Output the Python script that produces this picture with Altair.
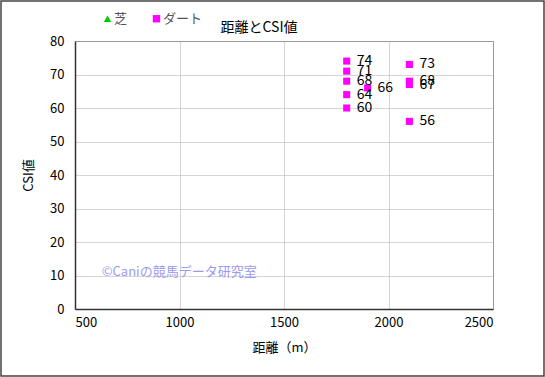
import altair as alt
import pandas as pd

# Data
distance = [1800, 1800, 1800, 1800, 1800, 1900, 2100, 2100, 2100, 2100]
csi = [74, 71, 68, 64, 60, 66, 73, 68, 67, 56]
surface = ["ダート"] * 10
legend_names = ["芝", "ダート"]
legend_colors = ["#00CC00", "#FF00FF"]
legend_shapes = ["triangle-up", "square"]
x_ticks = [500, 1000, 1500, 2000, 2500]
y_ticks = [0, 10, 20, 30, 40, 50, 60, 70, 80]
watermark = "©Caniの競馬データ研究室"
wm_x = [628]
wm_y = [11]

FONT = "Noto Sans CJK JP"

df = pd.DataFrame({"distance": distance, "csi": csi, "surface": surface})
df["label"] = df["csi"].astype(str)
wm = pd.DataFrame({"x": wm_x, "y": wm_y, "t": [watermark]})

xs = alt.Scale(domain=[500, 2500], nice=False, zero=False)
ys = alt.Scale(domain=[0, 80], nice=False)
xaxis = alt.Axis(values=x_ticks, grid=True, ticks=False, labelPadding=7,
                 titlePadding=12, format="d", labelOverlap=False,
                 titleFontWeight="normal")
yaxis = alt.Axis(values=y_ticks, grid=True, ticks=False, labelPadding=11,
                 titlePadding=14, labelOverlap=False, titleFontWeight="normal")

points = alt.Chart(df).mark_point(filled=True, size=50, opacity=1).encode(
    x=alt.X("distance:Q", scale=xs, title="距離（m）", axis=xaxis),
    y=alt.Y("csi:Q", scale=ys, title="CSI値", axis=yaxis),
    color=alt.Color("surface:N",
                    scale=alt.Scale(domain=legend_names, range=legend_colors),
                    legend=alt.Legend(title=None, orient="none", legendX=26, legendY=-29,
                                      direction="horizontal", columnPadding=22,
                                      symbolSize=55, labelFontSize=13, labelFont=FONT,
                                      labelColor="#555555", symbolStrokeWidth=0,
                                      labelOffset=0)),
    shape=alt.Shape("surface:N",
                    scale=alt.Scale(domain=legend_names, range=legend_shapes),
                    legend=None),
)

labels = alt.Chart(df).mark_text(align="left", baseline="middle", dx=10, fontSize=14,
                                 font=FONT, color="#000000").encode(
    x=alt.X("distance:Q", scale=xs, title="距離（m）", axis=xaxis),
    y=alt.Y("csi:Q", scale=ys, title="CSI値", axis=yaxis),
    text="label:N",
)

wmark = alt.Chart(wm).mark_text(align="left", baseline="middle", fontSize=13, font=FONT,
                                color="#9A9AF0").encode(
    x=alt.X("x:Q", scale=xs, title="距離（m）", axis=xaxis),
    y=alt.Y("y:Q", scale=ys, title="CSI値", axis=yaxis),
    text="t:N",
)

border = alt.Chart(wm).mark_rect(fill=None, stroke="#444444", strokeWidth=1.5).encode(
    x=alt.value(-74), x2=alt.value(469), y=alt.value(-40), y2=alt.value(335)
)

chart = alt.layer(points, labels, wmark, border).properties(
    width=418, height=268,
    background="white",
    title=alt.TitleParams("距離とCSI値", fontSize=14, font=FONT, fontWeight="normal",
                          dx=-25, offset=-35, color="#000000"),
    autosize=alt.AutoSizeParams(type="none"),
    padding={"left": 75, "top": 41, "right": 52, "bottom": 68},
).configure_view(stroke="#888888", strokeWidth=1).configure_axis(
    labelFont=FONT, titleFont=FONT, labelFontSize=13, titleFontSize=13,
    labelColor="#000000", titleColor="#000000", titleFontWeight="normal",
    gridColor="#AAAAAA", gridDash=[1, 1], domainColor="#333333", domainWidth=1.5,
)

chart.save("out.html", embed_options={"renderer": "svg", "actions": False})
